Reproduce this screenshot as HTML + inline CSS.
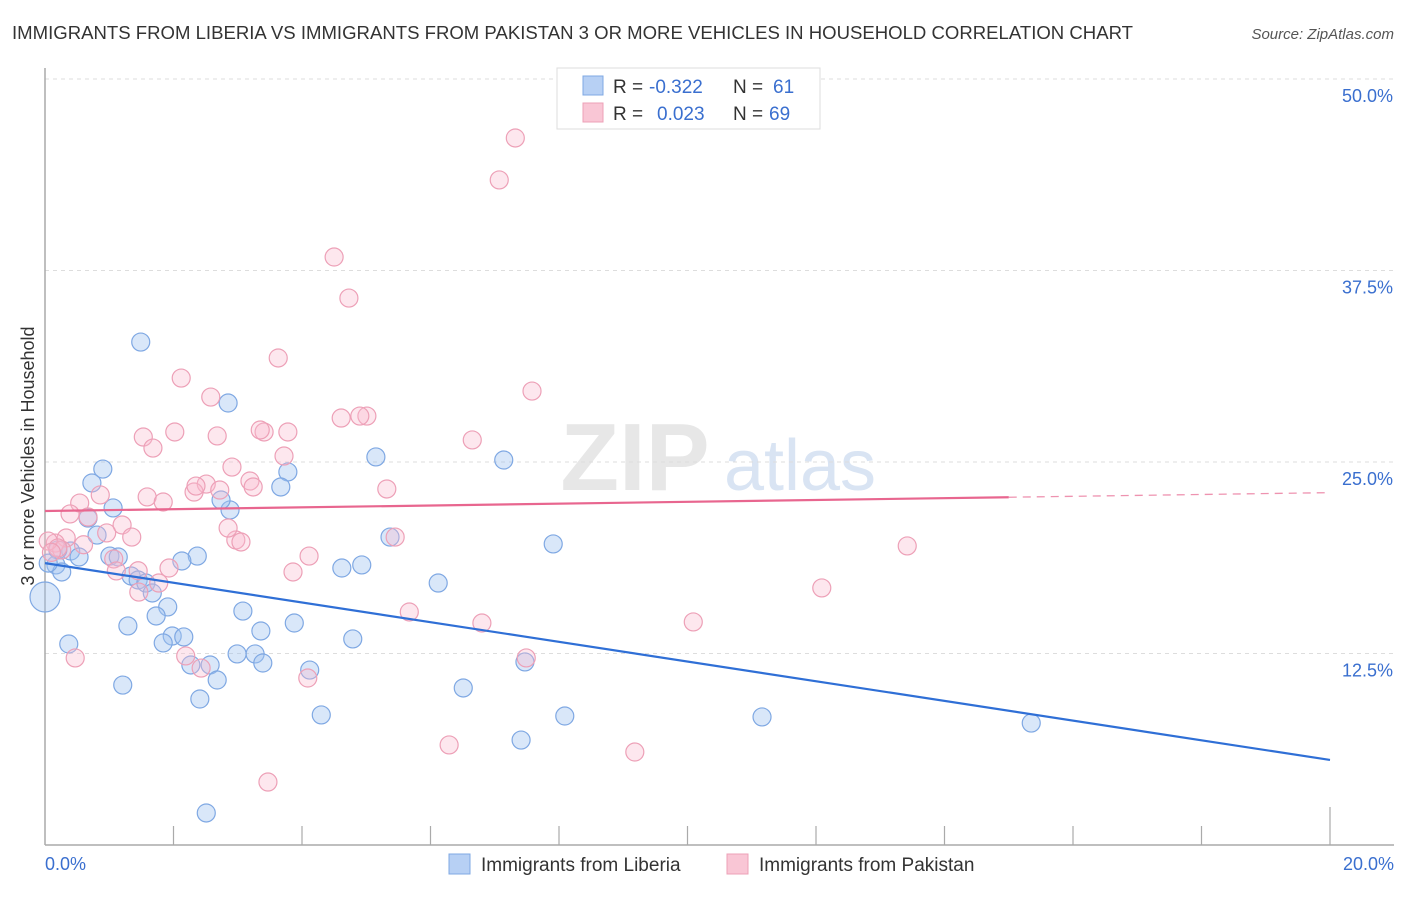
<!DOCTYPE html>
<html><head><meta charset="utf-8">
<style>
body{margin:0;background:#fff;font-family:"Liberation Sans",sans-serif;}
svg text{font-family:"Liberation Sans",sans-serif;}
</style></head>
<body>
<svg id="chart" width="1406" height="892" viewBox="0 0 1406 892">
<text x="12" y="39" font-size="18" fill="#333" textLength="1121" lengthAdjust="spacingAndGlyphs">IMMIGRANTS FROM LIBERIA VS IMMIGRANTS FROM PAKISTAN 3 OR MORE VEHICLES IN HOUSEHOLD CORRELATION CHART</text>
<text x="1394" y="39" font-size="15" fill="#555" font-style="italic" text-anchor="end">Source: ZipAtlas.com</text>
<g>
<text x="635" y="490" font-size="96" fill="#ddd" font-family="Liberation Serif" text-anchor="middle" font-weight="bold" opacity="0.7">ZIP</text>
<text x="800" y="490" font-size="72" fill="#c9d9ef" text-anchor="middle" opacity="0.7">atlas</text>
</g>
<g id="grid"></g>
<g id="axes"></g>
<g id="points"></g>
<g id="lines"></g>
<text transform="translate(34,456) rotate(-90)" font-size="18" fill="#333" text-anchor="middle">3 or more Vehicles in Household</text>
<text x="45" y="870" font-size="18" fill="#3a6fcf">0.0%</text>
<text x="1394" y="870" font-size="18" fill="#3a6fcf" text-anchor="end">20.0%</text>
<g>
<rect x="557" y="68" width="263" height="61" fill="#fff" stroke="#ddd"/>
<rect x="583" y="76" width="20" height="19" fill="#b7d0f4" stroke="#7fa8e3"/>
<rect x="583" y="103" width="20" height="19" fill="#f9c6d5" stroke="#eda0b7"/>
<text x="613" y="93" font-size="19" fill="#333">R = </text><text x="649" y="93" font-size="19" fill="#3a6fcf">-0.322</text>
<text x="733" y="93" font-size="19" fill="#333">N = </text><text x="773" y="93" font-size="19" fill="#3a6fcf">61</text>
<text x="613" y="120" font-size="19" fill="#333">R = </text><text x="657" y="120" font-size="19" fill="#3a6fcf">0.023</text>
<text x="733" y="120" font-size="19" fill="#333">N = </text><text x="769" y="120" font-size="19" fill="#3a6fcf">69</text>
</g>
<g>
<rect x="449" y="854" width="21" height="20" fill="#b7d0f4" stroke="#7fa8e3"/>
<text x="481" y="871" font-size="19" fill="#333">Immigrants from Liberia</text>
<rect x="727" y="854" width="21" height="20" fill="#f9c6d5" stroke="#eda0b7"/>
<text x="759" y="871" font-size="19" fill="#333">Immigrants from Pakistan</text>
</g>
</svg>
<script>
const yTicks=[12.5,25,37.5,50];
const yTickLabels=["12.5%","25.0%","37.5%","50.0%"];
const xTicks=[2,4,6,8,10,12,14,16,18,20];
const liberiaX=[1.49,2.85,0.90,0.73,1.06,0.67,0.81,0.40,0.20,0.53,0.17,0.26,0,1.01,1.14,1.34,1.45,1.57,1.67,1.91,1.73,1.29,0.37,1.98,2.16,1.84,2.37,2.13,2.27,2.57,2.68,2.41,1.21,3.08,2.99,3.27,3.39,3.36,3.88,4.12,4.30,4.79,4.62,4.93,5.15,3.78,3.67,2.88,2.74,5.37,6.12,6.51,7.14,7.47,7.41,7.91,8.09,11.16,15.35,2.51,0.05];
const liberiaY=[32.83,28.85,24.54,23.63,22.00,21.34,20.23,19.19,19.26,18.80,18.28,17.82,16.19,18.86,18.80,17.56,17.30,17.10,16.45,15.54,14.95,14.30,13.12,13.64,13.58,13.19,18.86,18.54,11.75,11.75,10.77,9.53,10.44,15.27,12.47,12.47,11.88,13.97,14.49,11.42,8.49,13.45,18.08,18.28,25.33,24.35,23.37,21.87,22.52,20.10,17.10,10.25,25.13,11.95,6.85,19.65,8.42,8.36,7.96,2.09,18.4];
const pakistanX=[7.32,7.07,4.50,4.73,3.63,2.12,7.58,2.58,5.01,4.61,4.90,1.53,2.02,1.68,2.68,3.41,3.35,3.78,6.65,2.91,2.51,3.19,3.24,3.72,2.72,2.32,2.35,5.32,1.59,1.84,0.54,0.86,0.39,0.67,1.20,1.35,0.96,1.07,0.33,0.16,0.26,0.05,0.20,2.97,3.05,2.85,5.45,4.11,3.86,1.93,1.11,1.46,1.77,5.67,6.80,7.49,4.09,2.19,2.43,0.47,6.29,9.18,3.47,10.09,12.09,13.42,1.45,0.10,0.60];
const pakistanY=[46.15,43.41,38.38,35.70,31.79,30.48,29.63,29.24,28.00,27.87,28.00,26.63,26.96,25.91,26.70,26.96,27.09,26.96,26.44,24.67,23.56,23.76,23.37,25.39,23.17,23.04,23.43,23.24,22.72,22.39,22.32,22.85,21.61,21.41,20.89,20.10,20.37,18.67,20.04,19.71,19.26,19.84,19.39,19.91,19.78,20.69,20.10,18.86,17.82,18.08,17.89,16.51,17.10,15.21,14.49,12.21,10.90,12.34,11.55,12.21,6.53,6.07,4.11,14.56,16.78,19.52,17.90,19.10,19.60];
const liberiaTrend=[18.4,5.55];
const pakistanTrend=[21.8,22.7,23.0];
const pakistanTrendSolidEnd=15.0;

const NS="http://www.w3.org/2000/svg";
const X=v=>45+v*64.25, Y=v=>845-v*15.32;
function mk(tag,attrs,parent){const e=document.createElementNS(NS,tag);for(const k in attrs)e.setAttribute(k,attrs[k]);parent.appendChild(e);return e;}
const grid=document.getElementById('grid'),axes=document.getElementById('axes'),pts=document.getElementById('points'),lines=document.getElementById('lines');
yTicks.forEach((t,i)=>{
 const l=mk('line',{x1:45,x2:1394,y1:Y(t),y2:Y(t),stroke:'#ddd','stroke-dasharray':'4,4'},grid);
 
 
 const tx=mk('text',{x:1393,y:Y(t)+23,'font-size':18,fill:'#3a6fcf','text-anchor':'end'},grid);
 tx.textContent=yTickLabels[i];
 
 
});
const ya=mk('line',{x1:45,x2:45,y1:68,y2:845,stroke:'#aaa','stroke-width':1.5},axes);


const xa=mk('line',{x1:45,x2:1394,y1:845,y2:845,stroke:'#aaa','stroke-width':1.5},axes);


xTicks.forEach((t,i)=>{
 const tk=mk('line',{x1:X(t),x2:X(t),y1:i==xTicks.length-1?807:826,y2:845,stroke:'#aaa','stroke-width':1.2},axes);
 
 
});
liberiaX.forEach((v,i)=>{
 const c=mk('circle',{cx:X(v),cy:Y(liberiaY[i]),r:v===0?15:9,fill:'rgba(160,195,240,0.4)',stroke:'#7fa8e3','stroke-width':1.2},pts);
 
 
});
pakistanX.forEach((v,i)=>{
 const c=mk('circle',{cx:X(v),cy:Y(pakistanY[i]),r:9,fill:'rgba(248,185,205,0.35)',stroke:'#eda0b7','stroke-width':1.2},pts);
 
 
});
const bl=mk('line',{x1:X(0),y1:Y(liberiaTrend[0]),x2:X(20),y2:Y(liberiaTrend[1]),stroke:'#2f6fd6','stroke-width':2.2},lines);


const pl=mk('line',{x1:X(0),y1:Y(pakistanTrend[0]),x2:X(pakistanTrendSolidEnd),y2:Y(pakistanTrend[1]),stroke:'#e8668f','stroke-width':2.2},lines);


const pd=mk('line',{x1:X(pakistanTrendSolidEnd),y1:Y(pakistanTrend[1]),x2:X(20),y2:Y(pakistanTrend[2]),stroke:'#e8668f','stroke-width':1.3,'stroke-dasharray':'8,6',opacity:0.7},lines);


</script>
</body></html>
